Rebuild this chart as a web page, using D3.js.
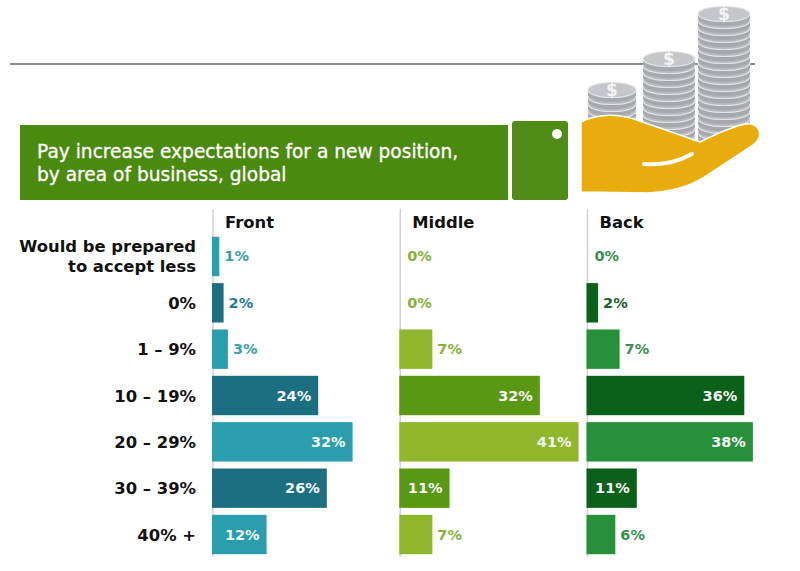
<!DOCTYPE html>
<html>
<head>
<meta charset="utf-8">
<script src="https://cdn.jsdelivr.net/npm/d3@7"></script>
<style>
  body { margin: 0; background: #fff; }
  svg { display: block; }
</style>
</head>
<body>
<svg id="chart" width="800" height="571"></svg>
<script>
const categories = ["Would be prepared|to accept less", "0%", "1 – 9%", "10 – 19%", "20 – 29%", "30 – 39%", "40% +"];
const areas = ["Front", "Middle", "Back"];
const frontValues = [1, 2, 3, 24, 32, 26, 12];
const middleValues = [0, 0, 7, 32, 41, 11, 7];
const backValues = [0, 2, 7, 36, 38, 11, 6];
const titleLines = ["Pay increase expectations for a new position,", "by area of business, global"];

// light / dark shade per area, rows alternate
const shades = {
  Front: ["#2a9ead", "#1b6f80"],
  Middle: ["#90b72b", "#5a9712"],
  Back: ["#27903a", "#0b6119"]
};
const outsideText = {
  Front: ["#3aa0a9", "#22808c"],
  Middle: ["#86b23a", "#6b8a4e"],
  Back: ["#3a9050", "#1c5f2c"]
};

let svg = d3.select('#chart');

// top rule
svg.append('line').attr('x1', 10).attr('x2', 755).attr('y1', 64).attr('y2', 64)
  .attr('stroke', '#8a8a8a').attr('stroke-width', 2);

drawCoins();
drawHand();

// title banner
svg.append('rect').attr('x', 20).attr('y', 125).attr('width', 488).attr('height', 75)
  .attr('fill', '#4a8a0e');
svg.append('rect').attr('x', 512).attr('y', 121).attr('width', 56).attr('height', 79)
  .attr('rx', 3).attr('fill', '#4e8c17');
svg.append('circle').attr('cx', 557).attr('cy', 134).attr('r', 5).attr('fill', '#fff');
svg.append('text').attr('x', 37).attr('y', 158)
  .attr('font-family', 'DejaVu Sans').attr('font-size', 18.6).attr('fill', '#fff')
  .attr('stroke', '#fff').attr('stroke-width', 0.3)
  .selectAll('tspan').data(titleLines).join('tspan')
  .attr('x', 37).attr('dy', (d, i) => i ? 23 : 0).text(d => d);

// scales
let y = d3.scaleBand().domain(categories).range([233.3, 557.7]).paddingInner(0.15).paddingOuter(0.075);
let panelX = d3.scalePoint().domain(areas).range([212, 586.5]);
let x = d3.scaleLinear().domain([0, 41]).range([3, 179.3]);

// category labels
let catLabels = svg.append('g').attr('font-family', 'DejaVu Sans').attr('font-weight', 'bold')
  .attr('font-size', 16.4).attr('text-anchor', 'end').attr('fill', '#111');
catLabels.selectAll('text').data(categories).join('text')
  .attr('transform', d => `translate(196, ${y(d) + y.bandwidth() / 2})`)
  .each(function (d) {
    let lines = d.split('|');
    d3.select(this).selectAll('tspan').data(lines).join('tspan')
      .attr('x', 0)
      .attr('y', (l, i) => lines.length > 1 ? (i ? 16 : -4) : 6)
      .text(l => l);
  });

let series = [frontValues, middleValues, backValues];

areas.forEach((area, ai) => {
  let x0 = panelX(area);
  let g = svg.append('g').attr('transform', `translate(${x0}, 0)`);

  g.append('line').attr('x1', 1).attr('x2', 1).attr('y1', 209).attr('y2', 557)
    .attr('stroke', '#cfd0dc').attr('stroke-width', 1.5);

  g.append('text').attr('x', 13).attr('y', 228)
    .attr('font-family', 'DejaVu Sans').attr('font-weight', 'bold').attr('font-size', 16.4)
    .attr('fill', '#111').text(area);

  let rows = series[ai].map((v, i) => ({ cat: categories[i], v: v, i: i }));

  g.selectAll('rect.bar').data(rows.filter(d => d.v > 0)).join('rect')
    .attr('class', 'bar')
    .attr('x', 0)
    .attr('y', d => y(d.cat))
    .attr('width', d => x(d.v))
    .attr('height', y.bandwidth())
    .attr('fill', d => shades[area][d.i % 2]);

  g.selectAll('text.val').data(rows).join('text')
    .attr('class', 'val')
    .attr('font-family', 'DejaVu Sans').attr('font-weight', 'bold').attr('font-size', 14.5)
    .attr('x', d => d.v >= 10 ? x(d.v) - 7 : (d.v > 0 ? x(d.v) + 5 : x(0) + 5))
    .attr('y', d => y(d.cat) + y.bandwidth() / 2 + 5)
    .attr('text-anchor', d => d.v >= 10 ? 'end' : 'start')
    .attr('fill', d => d.v >= 10 ? '#f2f6f4' : outsideText[area][d.v > 0 ? d.i % 2 : 0])
    .text(d => d.v + '%');
});

function drawCoins() {
  let stacks = [
    { cx: 612, top: 90, bottom: 124, rx: 24 },
    { cx: 669, top: 59, bottom: 146, rx: 26 },
    { cx: 724, top: 14, bottom: 140, rx: 26 }
  ];
  let coins = svg.append('g');
  stacks.forEach(s => {
    let step = 7;
    let n = Math.floor((s.bottom - s.top) / step);
    for (let k = n; k >= 0; k--) {
      let cy = s.top + k * step;
      let c = coins.append('g');
      c.append('ellipse').attr('cx', s.cx).attr('cy', cy + 4.5).attr('rx', s.rx).attr('ry', 7.5)
        .attr('fill', '#a5a8ac');
      c.append('rect').attr('x', s.cx - s.rx).attr('y', cy).attr('width', s.rx * 2).attr('height', 4.5)
        .attr('fill', '#a5a8ac');
      c.append('ellipse').attr('cx', s.cx).attr('cy', cy).attr('rx', s.rx).attr('ry', 7.5)
        .attr('fill', k === 0 ? '#c4c6c9' : '#b7b9bc').attr('stroke', '#e2e3e4').attr('stroke-width', 1.2);
    }
    coins.append('text').attr('x', s.cx).attr('y', s.top + 6).attr('text-anchor', 'middle')
      .attr('font-family', 'DejaVu Sans').attr('font-weight', 'bold').attr('font-size', 17)
      .attr('fill', '#f4f4f4').text('$');
  });
}

function drawHand() {
  svg.append('path')
    .attr('d', 'M581,122 C597,114 614,113 634,119 L700,142 C716,134 734,126 746,124 C760,122 765,137 753,145 L703,178 C690,186 670,192 648,193 L581,192 Z')
    .attr('fill', '#e8ad0c').attr('stroke', '#fff').attr('stroke-width', 1.5);
  svg.append('path')
    .attr('d', 'M644,164 C658,165 676,163 692,154')
    .attr('fill', 'none').attr('stroke', '#fff').attr('stroke-width', 4).attr('stroke-linecap', 'round');
}
</script>
</body>
</html>
